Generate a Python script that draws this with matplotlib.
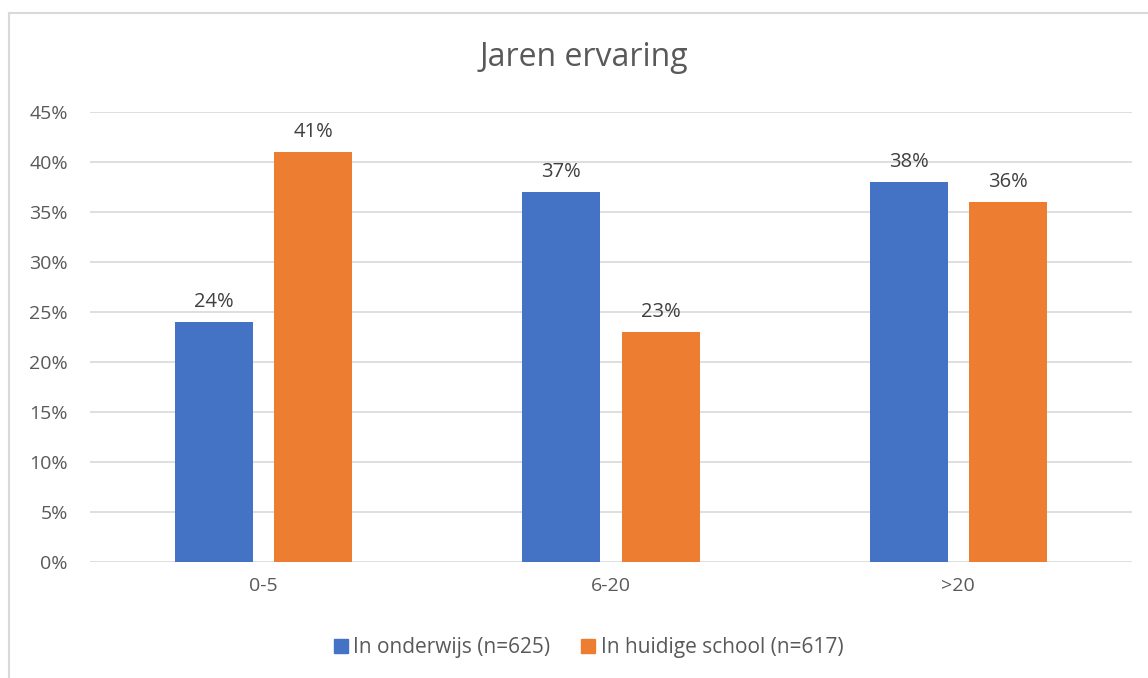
import numpy as np
import matplotlib.pyplot as plt
from matplotlib.lines import Line2D

# Gegevens
categorieen = ['0-5', '6-20', '>20']
onderwijs = [24, 37, 38]
huidige_school = [41, 23, 36]
labels_reeks = ['In onderwijs (n=625)', 'In huidige school (n=617)']
kleuren = ['#4472C4', '#ED7D31']

plt.rcParams['font.family'] = ['Open Sans', 'DejaVu Sans']
tekstkleur = '#595959'

fig = plt.figure(figsize=(11.48, 6.78), dpi=100)
ax = fig.add_axes([90 / 1148, 1 - 562 / 678, (1132 - 90) / 1148, 450 / 678])

x = np.arange(len(categorieen))
breedte = 0.225
afstand = 0.143
b1 = ax.bar(x - afstand, onderwijs, breedte, color=kleuren[0], label=labels_reeks[0], zorder=3)
b2 = ax.bar(x + afstand, huidige_school, breedte, color=kleuren[1], label=labels_reeks[1], zorder=3)

for balken in (b1, b2):
    for b in balken:
        ax.annotate(f'{b.get_height():.0f}%', (b.get_x() + b.get_width() / 2, b.get_height()),
                    xytext=(0, 7), textcoords='offset points', ha='center', va='bottom',
                    fontsize=14.5, color='#404040')

ax.set_xlim(-0.5, 2.5)
ax.set_ylim(0, 45)
ax.set_yticks(range(0, 46, 5))
ax.set_yticklabels([f'{v}%' for v in range(0, 46, 5)])
ax.set_xticks(x)
ax.set_xticklabels(categorieen)
ax.tick_params(axis='both', length=0, labelsize=14, labelcolor=tekstkleur)
ax.tick_params(axis='y', pad=16)
ax.tick_params(axis='x', pad=11)
ax.grid(axis='y', color='#D9D9D9', linewidth=1.2, zorder=0)
for s in ax.spines.values():
    s.set_visible(False)

fig.text(584 / 1148, 1 - 58 / 678, 'Jaren ervaring', ha='center', va='center',
         fontsize=23, color=tekstkleur)

handles = [Line2D([], [], marker='s', linestyle='', markersize=9.5, color=k) for k in kleuren]
fig.legend(handles, labels_reeks, loc='center', bbox_to_anchor=(589 / 1148, 1 - 648 / 678),
           ncol=2, frameon=False, fontsize=15, labelcolor=tekstkleur,
           handletextpad=0.3, columnspacing=1.5, handlelength=0.6)

# rand van het diagram
fig.add_artist(Line2D([9 / 1148, 9 / 1148], [0, 1 - 13 / 678], transform=fig.transFigure,
                      color='#D9D9D9', linewidth=1.5))
fig.add_artist(Line2D([9 / 1148, 1], [1 - 13 / 678, 1 - 13 / 678], transform=fig.transFigure,
                      color='#D9D9D9', linewidth=1.5))

fig.savefig('out.png', dpi=100)
